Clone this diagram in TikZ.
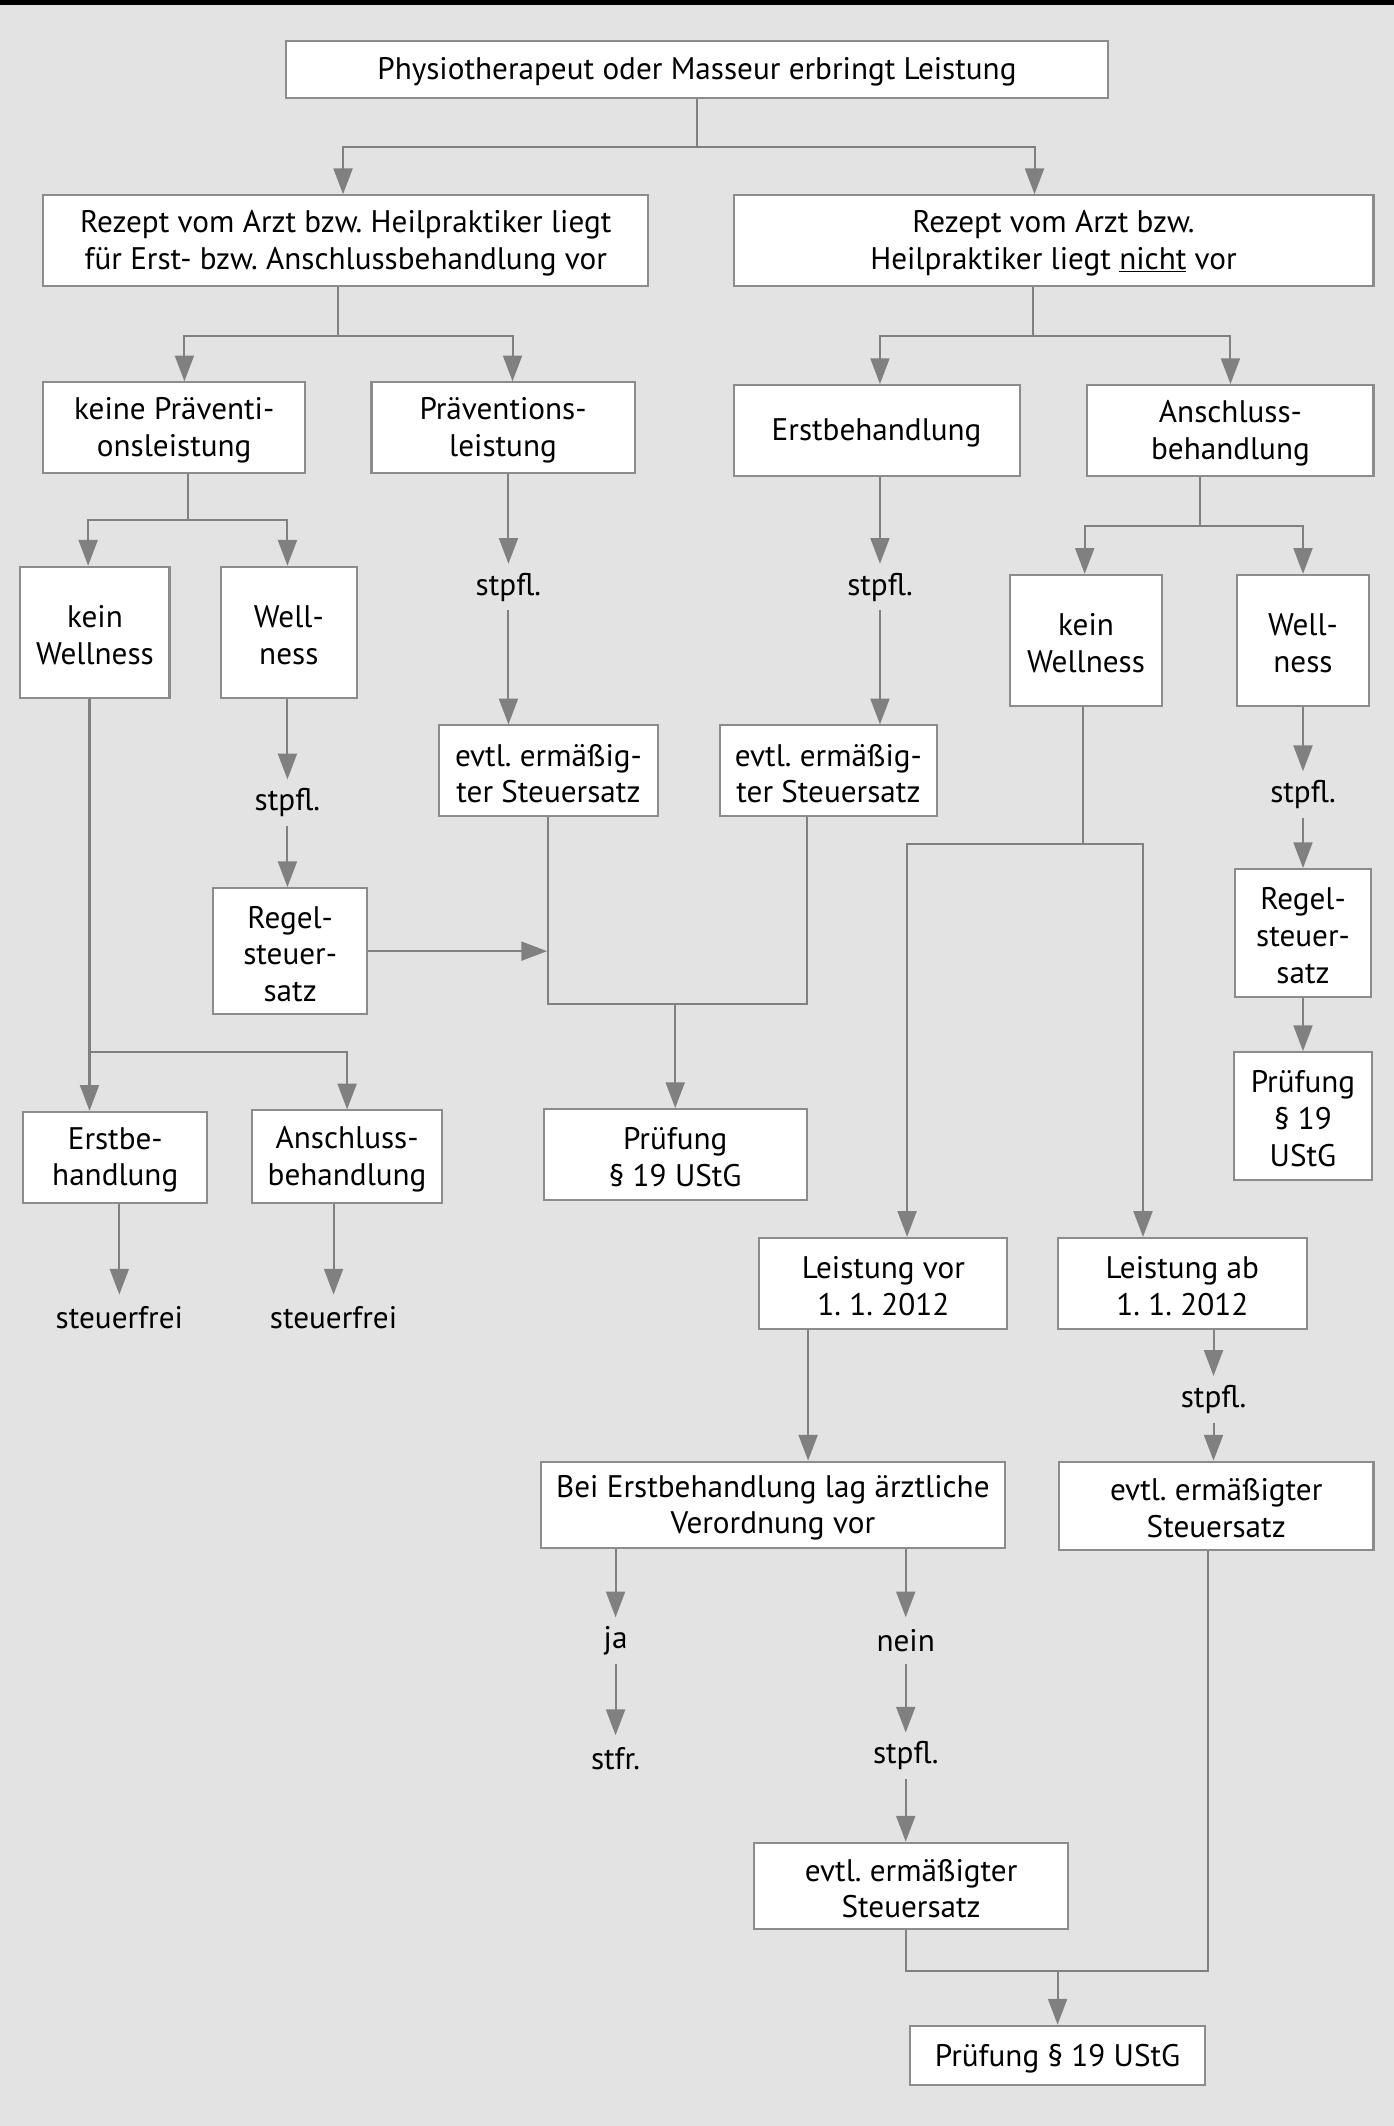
\documentclass[tikz,border=0pt]{standalone}
\usepackage{fontspec}
\setmainfont{PT Sans}
\usetikzlibrary{arrows.meta}
\definecolor{paneGrey}{HTML}{E3E3E3}
\definecolor{lineGrey}{HTML}{808080}
\definecolor{frameGrey}{HTML}{8C8C8C}
\frenchspacing

\begin{document}
\begin{tikzpicture}
[x=1pt,y=-1pt,
  font=\fontsize{23}{27}\selectfont,
  boxDecorate/.style={draw=frameGrey,fill=white,line width=1.5pt,inner sep=0pt},
  textDecorate/.style={align=center,inner sep=0pt,yshift=-2pt},
  labelDecorate/.style={inner sep=0pt,minimum height=34pt},
  lineDecorate/.style={draw=lineGrey,line width=1.5pt},
  arrowDecorate/.style={lineDecorate,-{Triangle[length=19pt,width=14pt]}}]
%% background
\fill[paneGrey] (0,0) rectangle (1028,1568);
\fill[black] (0,0) rectangle (1028,4);
\useasboundingbox (0,0) rectangle (1028,1568);
%% boxes
\foreach \nodename/\x/\y/\w/\h/\txt in {
  top/514/51/606/42/{Physiotherapeut oder Masseur erbringt Leistung},
  rezL/255/177.5/446/67/{Rezept vom Arzt bzw. Heilpraktiker liegt\\f\"ur Erst- bzw. Anschlussbehandlung vor},
  rezR/777/177.5/472/67/{Rezept vom Arzt bzw.\\Heilpraktiker liegt \underline{nicht} vor},
  kP/128.5/315.5/193/67/{keine Pr\"aventi-\\onsleistung},
  P/371/315.5/194/67/{Pr\"aventions-\\leistung},
  erstR/646.5/317.5/211/67/{Erstbehandlung},
  anschR/907.5/317.5/211/67/{Anschluss-\\behandlung},
  kwL/70/466.5/110/97/{kein\\Wellness},
  wL/213/466.5/100/97/{Well-\\ness},
  kwR/801/472.5/112/97/{kein\\Wellness},
  wR/961/472.5/97/97/{Well-\\ness},
  evtlA/404.5/568.5/161/67/{evtl. erm\"a\ss ig-\\ter Steuersatz},
  evtlB/611/568.5/160/67/{evtl. erm\"a\ss ig-\\ter Steuersatz},
  regelL/214/701.5/114/93/{Regel-\\steuer-\\satz},
  regelR/961/688/100/94/{Regel-\\steuer-\\satz},
  pruefR/961/823/102/94/{Pr\"ufung\\\S\ 19\\UStG},
  pruefM/498/851.5/194/67/{Pr\"ufung\\\S\ 19 UStG},
  erstbeL/85/853.5/136/67/{Erstbe-\\handlung},
  anschL/256/853/140/68/{Anschluss-\\behandlung},
  vor/651.5/946.5/183/67/{Leistung vor\\1. 1. 2012},
  ab/872/946.5/184/67/{Leistung ab\\1. 1. 2012},
  bei/570/1110/342/64/{Bei Erstbehandlung lag \"arztliche\\Verordnung vor},
  evtlC/897/1110.5/232/65/{evtl. erm\"a\ss igter\\Steuersatz},
  evtlD/672/1391/232/64/{evtl. erm\"a\ss igter\\Steuersatz},
  pruefB/780/1516/218/44/{Pr\"ufung \S\ 19 UStG}}
{
  \node (\nodename) at (\x,\y) [boxDecorate,minimum width=\w pt,minimum height=\h pt] {};
  \node at (\nodename.center) [textDecorate] {\txt};
}
%% free labels
\foreach \nodename/\x/\y/\txt in {
  stpflA/375/433/stpfl., stpflB/649/433/stpfl., stpflC/212/592/stpfl.,
  stpflD/961/586/stpfl., stpflE/895/1032/stpfl., stpflF/668/1295/stpfl.,
  freiA/88/972/steuerfrei, freiB/246/972/steuerfrei,
  ja/454/1210/ja, stfr/454/1297/stfr., nein/668/1210/nein}
{
  \node (\nodename) at (\x,\y) [labelDecorate] {\txt};
}
%% connectors, top part
\draw[lineDecorate] (top.south) -- ++(0,36) coordinate (splitTop);
\draw[arrowDecorate] (splitTop) -| ([xshift=-2pt]rezL.north);
\draw[arrowDecorate] (splitTop) -| ([xshift=-14pt]rezR.north);
\draw[lineDecorate] ([xshift=-6pt]rezL.south) -- ++(0,36) coordinate (splitRezL);
\draw[arrowDecorate] (splitRezL) -| ([xshift=7.5pt]kP.north);
\draw[arrowDecorate] (splitRezL) -| ([xshift=7pt]P.north);
\draw[lineDecorate] ([xshift=-15pt]rezR.south) -- ++(0,36) coordinate (splitRezR);
\draw[arrowDecorate] (splitRezR) -| ([xshift=2.5pt]erstR.north);
\draw[arrowDecorate] (splitRezR) -| (anschR.north);
%% left branch
\draw[lineDecorate] ([xshift=10.5pt]kP.south) -- ++(0,34) coordinate (splitKP);
\draw[arrowDecorate] (splitKP) -| ([xshift=-5pt]kwL.north);
\draw[arrowDecorate] (splitKP) -| ([xshift=-1pt]wL.north);
\draw[arrowDecorate] ([xshift=4pt]P.south) -- (stpflA);
\draw[arrowDecorate] (stpflA) -- ([xshift=-29.5pt]evtlA.north);
\draw[arrowDecorate] ([xshift=2.5pt]erstR.south) -- (stpflB);
\draw[arrowDecorate] (stpflB) -- ([xshift=38pt]evtlB.north);
\draw[arrowDecorate] ([xshift=-1pt]wL.south) -- (stpflC);
\draw[arrowDecorate] (stpflC) -- ([xshift=-2pt]regelL.north);
\draw[arrowDecorate,shorten >=1pt] (regelL.east) -- (regelL.east -| evtlA.south);
\draw[lineDecorate] (evtlA.south) -- ++(0,138) coordinate (joinEvtl) -| ([xshift=-16pt]evtlB.south);
\draw[arrowDecorate] (joinEvtl -| pruefM.north) -- (pruefM.north);
\draw[arrowDecorate] ([xshift=-4pt]kwL.south) -- ([xshift=-19pt]erstbeL.north);
\draw[arrowDecorate] ([xshift=-4pt]kwL.south) ++(0,260) -| (anschL.north);
\draw[arrowDecorate] ([xshift=3pt]erstbeL.south) -- (freiA);
\draw[arrowDecorate] ([xshift=-10pt]anschL.south) -- (freiB);
%% right branch
\draw[lineDecorate] ([xshift=-22.5pt]anschR.south) -- ++(0,36) coordinate (splitAnschR);
\draw[arrowDecorate] (splitAnschR) -| ([xshift=-1pt]kwR.north);
\draw[arrowDecorate] (splitAnschR) -| (wR.north);
\draw[lineDecorate] ([xshift=-2pt]kwR.south) -- ++(0,101) coordinate (splitKwR);
\draw[arrowDecorate] (splitKwR) -| ([xshift=17.5pt]vor.north);
\draw[arrowDecorate] (splitKwR) -| ([xshift=-29pt]ab.north);
\draw[arrowDecorate] (wR.south) -- (stpflD);
\draw[arrowDecorate] (stpflD) -- (regelR.north);
\draw[arrowDecorate] (regelR.south) -- (pruefR.north);
\draw[arrowDecorate] ([xshift=-55.5pt]vor.south) -- ([xshift=26pt]bei.north);
\draw[arrowDecorate] ([xshift=23pt]ab.south) -- (stpflE);
\draw[arrowDecorate] (stpflE) -- ([xshift=-2pt]evtlC.north);
\draw[arrowDecorate] ([xshift=-116pt]bei.south) -- (ja);
\draw[arrowDecorate] (ja) -- (stfr);
\draw[arrowDecorate] ([xshift=98pt]bei.south) -- (nein);
\draw[arrowDecorate] (nein) -- (stpflF);
\draw[arrowDecorate] (stpflF) -- ([xshift=-4pt]evtlD.north);
\draw[lineDecorate] ([xshift=-4pt]evtlD.south) -- ++(0,30) coordinate (joinEnd) -| ([xshift=-6pt]evtlC.south);
\draw[arrowDecorate] (joinEnd -| pruefB.north) -- (pruefB.north);
\end{tikzpicture}
\end{document}
